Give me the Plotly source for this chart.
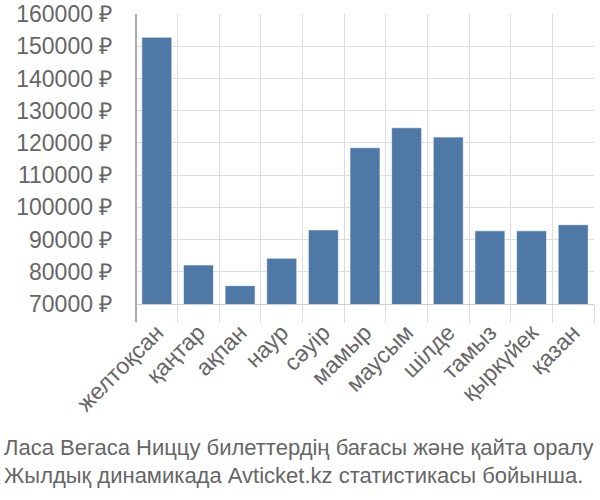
import plotly.graph_objects as go

months = ["желтоқсан", "қаңтар", "ақпан", "наур", "сәуір", "мамыр", "маусым", "шілде", "тамыз", "қыркүйек", "қазан"]
prices = [152800, 82100, 75700, 84200, 93000, 118500, 124700, 121800, 92700, 92700, 94600]
yticks = [70000, 80000, 90000, 100000, 110000, 120000, 130000, 140000, 150000, 160000]
caption = ["Ласа Вегаса Ниццу билеттердің бағасы және қайта оралу", "Жылдық динамикада Avticket.kz статистикасы бойынша."]

fig = go.Figure(go.Bar(
    x=months, y=prices,
    marker=dict(color="#4e78a6", line=dict(color="rgba(255,255,255,0.6)", width=1)),
))
fig.update_layout(
    width=600, height=500,
    margin=dict(l=136, r=6, t=14, b=196),
    paper_bgcolor="white", plot_bgcolor="white",
    bargap=0.28, showlegend=False,
    font=dict(family="Liberation Sans, Arial, sans-serif", size=22, color="#666"),
)
fig.update_yaxes(
    range=[70000, 160000], tickvals=yticks, ticktext=[f"{v} ₽" for v in yticks],
    showgrid=True, gridcolor="#dddddd", gridwidth=1, zeroline=False,
    showline=False, ticks="outside", ticklen=18, tickcolor="rgba(0,0,0,0)",
    tickfont=dict(size=23, color="#666"), automargin=False,
)
fig.update_xaxes(
    tickangle=-45, tickson="boundaries", showgrid=True, gridcolor="#dddddd",
    showline=True, linecolor="#cccccc", ticks="outside", ticklen=18, tickcolor="#dddddd",
    tickfont=dict(size=23, color="#666"), automargin=False, ticklabelstandoff=5,
)
fig.add_shape(type="line", xref="paper", yref="paper", x0=0, x1=0, y0=0, y1=1, line=dict(color="#aaaaaa", width=2))
fig.add_shape(type="line", xref="paper", yref="paper", x0=0, x1=0, y0=0, y1=-18/290, line=dict(color="#aaaaaa", width=2))
fig.add_annotation(text=caption[0], xref="paper", yref="paper", x=-134/458, y=-143/290, xanchor="left", yanchor="middle", showarrow=False, font=dict(size=22, color="#666"))
fig.add_annotation(text=caption[1], xref="paper", yref="paper", x=-134/458, y=-171/290, xanchor="left", yanchor="middle", showarrow=False, font=dict(size=22, color="#666"))
fig.write_html("out.html", config={"displayModeBar": False},
               post_script="document.body.style.margin='0';document.body.style.overflow='hidden';")
